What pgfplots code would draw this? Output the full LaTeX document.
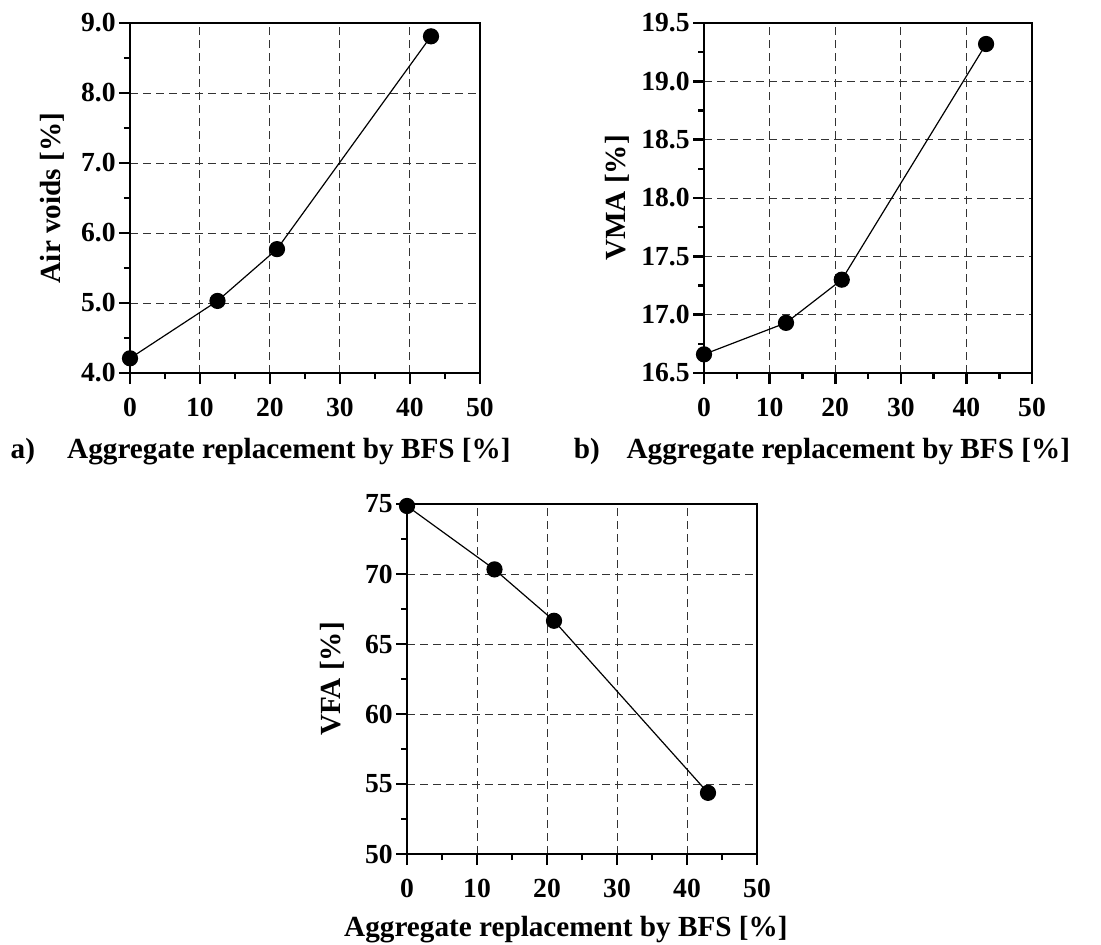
\documentclass[border=0pt]{standalone}
\usepackage{fontspec}
\setmainfont{Liberation Serif}
\usepackage{pgfplots}
\pgfplotsset{compat=1.18}

\pgfplotsset{
  bfsax/.style={
    scale only axis,
    width=175pt, height=175pt,
    anchor=south west,
    xmin=0, xmax=50,
    xtick={0,10,...,50},
    minor x tick num=1,
    minor y tick num=1,
    tick align=outside,
    xtick pos=left, ytick pos=left,
    major tick length=5.5pt,
    minor tick length=3pt,
    axis line style={line width=1.3pt},
    every tick/.style={black, line width=1.3pt},
    grid=major,
    major grid style={black!80, line width=0.5pt, dash pattern=on 4pt off 2.5pt},
    clip=false,
    /pgf/number format/assume math mode=true,
    tick label style={font=\fontsize{13.8}{16}\selectfont\bfseries},
    yticklabel style={inner sep=1.5pt},
    xticklabel style={inner sep=2pt, yshift=-5pt},
    label style={font=\fontsize{14.6}{17}\selectfont\bfseries},
  },
  bfsline/.style={black, line width=0.6pt, mark=*, mark size=3.75pt, mark options={fill=black}},
}

\begin{document}
\begin{tikzpicture}
\useasboundingbox (0,0) rectangle (550.5pt,-472pt);

% a) air voids
\begin{axis}[bfsax, at={(65pt,-186.5pt)},
  ymin=4, ymax=9, ytick={4,5,...,9},
  yticklabel style={/pgf/number format/.cd, fixed, fixed zerofill, precision=1},
  xlabel={Aggregate replacement by BFS [\%]},
  xlabel style={at={(axis description cs:0.454,-0.243)}, anchor=base},
  ylabel={Air voids [\%]},
  ylabel style={at={(axis description cs:-0.223,0.5)}, anchor=center},
]
\addplot[bfsline] coordinates {(0,4.21) (12.5,5.03) (21,5.77) (43,8.81)};
\node[font=\fontsize{14.6}{17}\selectfont\bfseries, anchor=base] at (axis description cs:-0.306,-0.243) {a)};
\end{axis}

% b) VMA
\begin{axis}[bfsax, at={(352pt,-186.5pt)}, width=164pt,
  ymin=16.5, ymax=19.5, ytick={16.5,17,...,19.5},
  yticklabel style={/pgf/number format/.cd, fixed, fixed zerofill, precision=1},
  xlabel={Aggregate replacement by BFS [\%]},
  xlabel style={at={(axis description cs:0.44,-0.243)}, anchor=base},
  ylabel={VMA [\%]},
  ylabel style={at={(axis description cs:-0.265,0.5)}, anchor=center},
]
\addplot[bfsline] coordinates {(0,16.66) (12.5,16.93) (21,17.30) (43,19.32)};
\node[font=\fontsize{14.6}{17}\selectfont\bfseries, anchor=base] at (axis description cs:-0.357,-0.243) {b)};
\end{axis}

% c) VFA
\begin{axis}[bfsax, at={(203.5pt,-427pt)},
  ymin=50, ymax=75, ytick={50,55,...,75},
  xlabel={Aggregate replacement by BFS [\%]},
  xlabel style={at={(axis description cs:0.454,-0.237)}, anchor=base},
  ylabel={VFA [\%]},
  ylabel style={at={(axis description cs:-0.214,0.5)}, anchor=center},
]
\addplot[bfsline] coordinates {(0,74.86) (12.5,70.33) (21,66.66) (43,54.37)};
\end{axis}
\end{tikzpicture}
\end{document}
